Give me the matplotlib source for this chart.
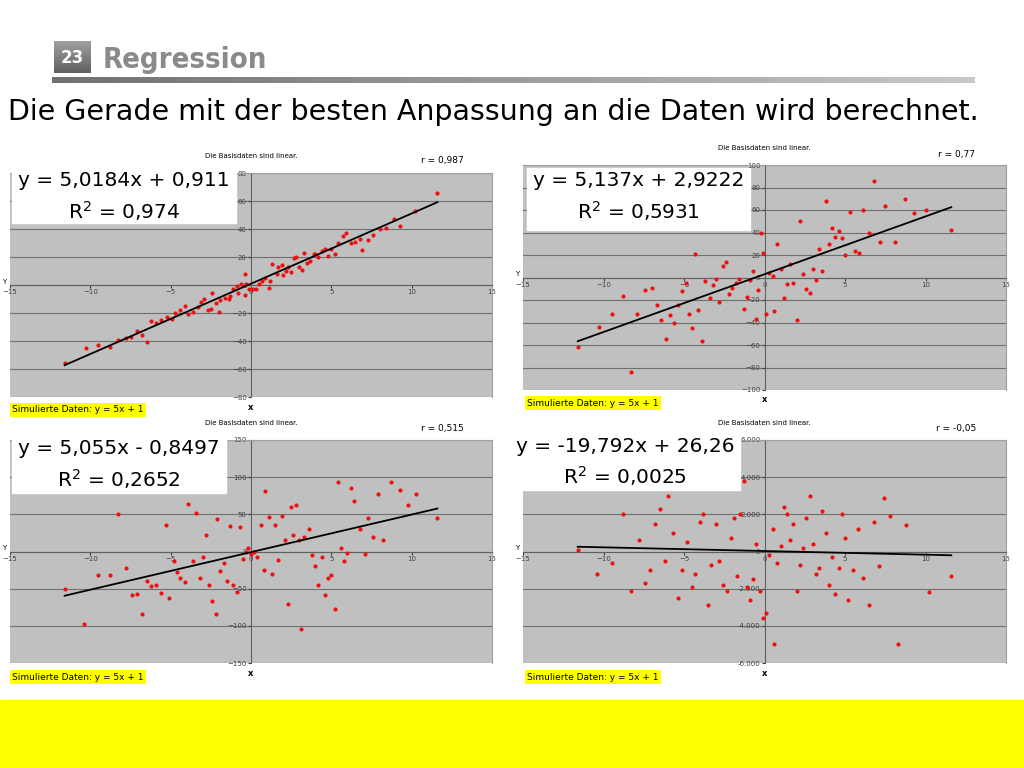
import matplotlib
matplotlib.use("Agg")
import matplotlib.pyplot as plt
import numpy as np
from matplotlib.ticker import FuncFormatter

p1 = [(-11.6,-56),(-10.3,-45),(-9.5,-43),(-8.8,-44),(-8.3,-39),(-7.8,-38),(-7.5,-37),(-7.1,-33),(-6.8,-36),(-6.5,-41),(-6.2,-26),(-5.9,-27),(-5.6,-25),(-5.2,-23),(-4.9,-24),(-4.7,-20),(-4.4,-18),(-4.1,-15),(-3.9,-21),(-3.6,-19),(-3.3,-16),(-3.1,-12),(-2.9,-10),(-2.7,-18),(-2.5,-17),(-2.4,-6),(-2.2,-13),(-2.0,-19),(-1.9,-11),(-1.6,-9),(-1.4,-10),(-1.3,-8),(-1.1,-3),(-0.9,-1),(-0.8,-6),(-0.6,1),(-0.4,-7),(-0.4,8),(-0.3,1),(-0.1,-3),(0.1,-3),(0.3,-3),(0.5,1),(0.7,3),(0.9,5),(1.1,-2),(1.2,3),(1.3,15),(1.6,8),(1.7,13),(1.9,14),(2.0,7),(2.2,10),(2.3,13),(2.5,9),(2.7,19),(2.8,20),(3.0,13),(3.2,11),(3.3,23),(3.5,16),(3.7,17),(3.9,22),(4.0,22),(4.2,20),(4.4,24),(4.6,26),(4.8,21),(5.0,26),(5.2,22),(5.4,30),(5.7,35),(5.9,37),(6.2,30),(6.5,31),(6.8,33),(6.9,25),(7.3,32),(7.6,36),(8.0,40),(8.4,41),(8.9,47),(9.3,42),(10.2,53),(11.6,66)]
p2 = [(-11.6,-62),(-10.3,-44),(-9.5,-32),(-8.8,-16),(-8.3,-84),(-7.9,-32),(-7.4,-11),(-7.0,-9),(-6.7,-24),(-6.4,-38),(-6.1,-55),(-5.9,-33),(-5.6,-40),(-5.4,-24),(-5.1,-12),(-4.9,-5),(-4.7,-32),(-4.5,-45),(-4.3,21),(-4.1,-29),(-3.9,-56),(-3.7,-3),(-3.4,-18),(-3.2,-7),(-3.0,-1),(-2.8,-22),(-2.6,10),(-2.4,14),(-2.2,-15),(-2.0,-9),(-1.8,-5),(-1.6,-1),(-1.3,-28),(-1.1,-17),(-0.9,-2),(-0.7,6),(-0.5,-37),(-0.4,-11),(-0.2,40),(-0.1,22),(0.1,-32),(0.3,4),(0.5,1),(0.6,-30),(0.8,30),(1.0,8),(1.2,-18),(1.4,-6),(1.6,12),(1.8,-5),(2.0,-38),(2.2,50),(2.4,3),(2.6,-10),(2.8,-14),(3.0,8),(3.2,-2),(3.4,25),(3.6,6),(3.8,68),(4.0,30),(4.2,44),(4.4,36),(4.6,41),(4.8,35),(5.0,20),(5.3,58),(5.6,24),(5.9,22),(6.1,60),(6.5,40),(6.8,86),(7.2,32),(7.5,64),(8.1,32),(8.7,70),(9.3,57),(10.0,60),(11.6,42)]
p3 = [(-11.6,-50),(-10.4,-97),(-9.5,-32),(-8.8,-32),(-8.3,50),(-7.8,-22),(-7.4,-58),(-7.1,-57),(-6.8,-84),(-6.5,-40),(-6.2,-47),(-5.9,-45),(-5.6,-56),(-5.3,35),(-5.1,-62),(-4.8,-13),(-4.6,-28),(-4.4,-35),(-4.1,-41),(-3.9,64),(-3.6,-13),(-3.4,52),(-3.2,-35),(-3.0,-8),(-2.8,22),(-2.6,-45),(-2.4,-66),(-2.2,-84),(-2.1,44),(-1.9,-26),(-1.7,-15),(-1.5,-40),(-1.3,34),(-1.1,-45),(-0.9,-55),(-0.7,33),(-0.5,-10),(-0.3,0),(-0.2,5),(0.0,-3),(0.2,-1),(0.4,-8),(0.6,35),(0.8,-25),(0.9,82),(1.1,47),(1.3,-30),(1.5,35),(1.7,-12),(1.9,48),(2.1,16),(2.3,-70),(2.5,60),(2.6,22),(2.8,62),(3.0,15),(3.1,-104),(3.3,20),(3.6,30),(3.8,-5),(4.0,-20),(4.2,-45),(4.4,-8),(4.6,-58),(4.8,-35),(5.0,-32),(5.2,-78),(5.4,93),(5.6,5),(5.8,-13),(6.0,-2),(6.2,86),(6.4,68),(6.8,30),(7.1,-3),(7.3,45),(7.6,20),(7.9,77),(8.2,16),(8.7,93),(9.3,83),(9.8,62),(10.3,77),(11.6,45)]
p4 = [(-11.6,100),(-10.4,-1200),(-9.5,-600),(-8.8,2000),(-8.3,-2100),(-7.8,600),(-7.4,-1700),(-7.1,-1000),(-6.8,1500),(-6.5,2300),(-6.2,-500),(-6.0,3000),(-5.7,1000),(-5.4,-2500),(-5.1,-1000),(-4.8,500),(-4.5,-1900),(-4.3,-1200),(-4.0,1600),(-3.8,2000),(-3.5,-2900),(-3.3,-700),(-3.0,1500),(-2.8,-500),(-2.6,-1800),(-2.3,-2100),(-2.1,700),(-1.9,1800),(-1.7,-1300),(-1.5,2000),(-1.3,3800),(-1.1,-1900),(-0.9,-2600),(-0.7,-1500),(-0.5,400),(-0.3,-2100),(-0.1,-3600),(0.1,-3300),(0.3,-200),(0.5,1200),(0.6,-5000),(0.8,-600),(1.0,300),(1.2,2400),(1.4,2000),(1.6,600),(1.8,1500),(2.0,-2100),(2.2,-700),(2.4,200),(2.6,1800),(2.8,3000),(3.0,400),(3.2,-1200),(3.4,-900),(3.6,2200),(3.8,1000),(4.0,-1800),(4.2,-300),(4.4,-2300),(4.6,-900),(4.8,2000),(5.0,700),(5.2,-2600),(5.5,-1000),(5.8,1200),(6.1,-1400),(6.5,-2900),(6.8,1600),(7.1,-800),(7.4,2900),(7.8,1900),(8.3,-5000),(8.8,1400),(10.2,-2200),(11.6,-1300)]

slopes = [5.0184, 5.137, 5.055, -19.792]
intercepts = [0.911, 2.9222, -0.8497, 26.26]
eq_texts = ["y = 5,0184x + 0,911", "y = 5,137x + 2,9222", "y = 5,055x - 0,8497", "y = -19,792x + 26,26"]
r2_texts = ["R$^2$ = 0,974", "R$^2$ = 0,5931", "R$^2$ = 0,2652", "R$^2$ = 0,0025"]
r_texts = ["r = 0,987", "r = 0,77", "r = 0,515", "r = -0,05"]
ylims = [(-80, 80, 20), (-100, 100, 20), (-150, 150, 50), (-6000, 6000, 2000)]

W, H = 1024, 768
fig = plt.figure(figsize=(10.24, 7.68), dpi=100)
fig.patch.set_facecolor("white")

def rect(x0, y0, x1, y1):
    return [x0 / W, 1 - y1 / H, (x1 - x0) / W, (y1 - y0) / H]

bg = fig.add_axes([0, 0, 1, 1]); bg.set_xlim(0, W); bg.set_ylim(H, 0); bg.axis("off")
grad = np.linspace(0, 1, 256)[None, :]
bg.imshow(grad, extent=(52, 975, 83, 77), cmap=matplotlib.colors.LinearSegmentedColormap.from_list("g", ["#707070", "#c8c8c8"]), aspect="auto")
bg.imshow(np.linspace(0, 1, 64)[:, None], extent=(54, 91, 73, 41), cmap=matplotlib.colors.LinearSegmentedColormap.from_list("g2", ["#a0a0a0", "#606060"]), aspect="auto")
bg.text(72, 58, "23", color="white", fontsize=12, fontweight="bold", ha="center", va="center", family="Liberation Sans Narrow")
bg.text(103, 60, "Regression", color="#8a8a8a", fontsize=21, fontweight="bold", va="center", family="DejaVu Sans", stretch="condensed")
bg.text(8, 112, "Die Gerade mit der besten Anpassung an die Daten wird berechnet.", fontsize=20.5, va="center", family="DejaVu Sans")
bg.add_patch(plt.Rectangle((0, 700), W, 68, color="#ffff00"))
bg.set_xlim(0, W); bg.set_ylim(H, 0)

panels = [
    dict(data=p1, ax=(10, 173, 492, 397), box=(12, 168, 236, 223), sim=(12, 410)),
    dict(data=p2, ax=(523, 165, 1006, 390), box=(527, 168, 750, 230), sim=(527, 403)),
    dict(data=p3, ax=(10, 440, 492, 663), box=(12, 436, 226, 493), sim=(12, 677)),
    dict(data=p4, ax=(523, 440, 1006, 663), box=(510, 433, 740, 490), sim=(527, 677)),
]

for i, p in enumerate(panels):
    x0, y0, x1, y1 = p["ax"]
    ax = fig.add_axes(rect(x0, y0, x1, y1))
    ax.set_facecolor("#c0c0c0")
    lo, hi, st = ylims[i]
    ax.set_xlim(-15, 15); ax.set_ylim(lo, hi)
    ax.set_yticks(np.arange(lo, hi + st / 2, st))
    ax.set_xticks(np.arange(-15, 16, 5))
    ax.grid(axis="y", color="#707070", lw=0.8)
    ax.set_axisbelow(True)
    for s in ["top", "right"]:
        ax.spines[s].set_color("#a0a0a0")
    ax.spines["left"].set_position(("data", 0))
    ax.spines["bottom"].set_position(("data", 0))
    ax.spines["left"].set_color("#606060"); ax.spines["bottom"].set_color("#606060")
    ax.tick_params(labelsize=5, length=2, pad=1, colors="#404040")
    if i == 3:
        ax.yaxis.set_major_formatter(FuncFormatter(lambda v, _: f"{int(v):,}".replace(",", ".")))
    xs = np.array([d[0] for d in p["data"]]); ys = np.array([d[1] for d in p["data"]])
    ax.scatter(xs, ys, s=9, color="#ee1111", zorder=3, linewidths=0)
    lx = np.array([xs.min(), xs.max()])
    ax.plot(lx, slopes[i] * lx + intercepts[i], color="black", lw=1.3, zorder=4)
    bg.text((x0 + x1) / 2, y0 - 17, "Die Basisdaten sind linear.", fontsize=5, ha="center", va="center")
    bg.text(x1 - 50, y0 - 12 if i != 1 else y0 - 10, r_texts[i], fontsize=6.5, ha="center", va="center")
    bg.text(x0 - 6, (y0 + y1) / 2 - 3, "Y", fontsize=5, ha="center", va="center")
    bg.text((x0 + x1) / 2, y1 + 10, "x", fontsize=6, ha="center", va="center", fontweight="bold")
    bx0, by0, bx1, by1 = p["box"]
    bg.add_patch(plt.Rectangle((bx0, by0), bx1 - bx0, by1 - by0, color="white", zorder=5))
    bg.text((bx0 + bx1) / 2, by0 + 13, eq_texts[i], fontsize=14.5, ha="center", va="center", zorder=6)
    bg.text((bx0 + bx1) / 2, by0 + 43, r2_texts[i], fontsize=14.5, ha="center", va="center", zorder=6)
    sx, sy = p["sim"]
    bg.text(sx, sy, "Simulierte Daten: y = 5x + 1", fontsize=6.5, va="center", zorder=6,
            bbox=dict(facecolor="#ffff00", edgecolor="none", pad=1.5))

bg.set_zorder(10); bg.patch.set_alpha(0)
fig.savefig("out.png", dpi=100)
